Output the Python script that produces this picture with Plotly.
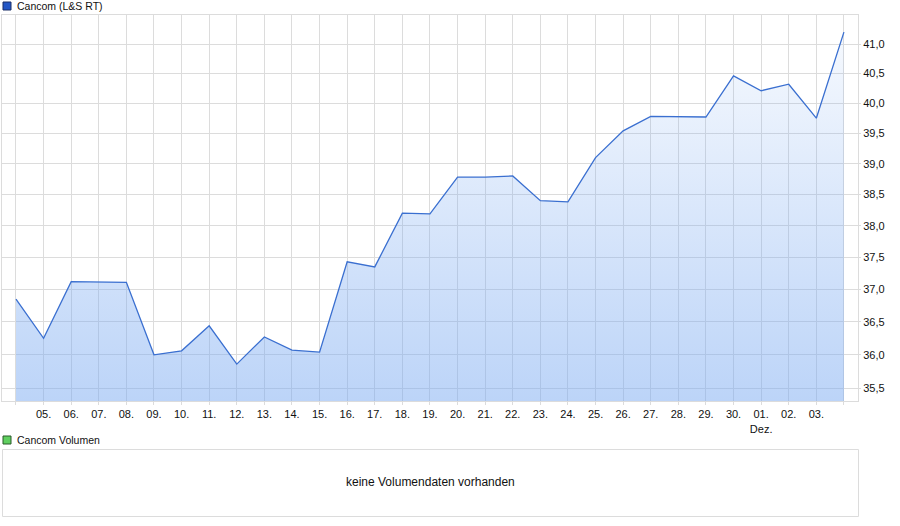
import math
import plotly.graph_objects as go

# ---- data ----
day_labels = ["04.", "05.", "06.", "07.", "08.", "09.", "10.", "11.", "12.", "13.",
              "14.", "15.", "16.", "17.", "18.", "19.", "20.", "21.", "22.", "23.",
              "24.", "25.", "26.", "27.", "28.", "29.", "30.", "01.", "02.", "03.", "04."]
month_marks = {"01.": "Dez."}
prices = [36.85, 36.25, 37.12, 37.12, 37.11, 36.00, 36.06, 36.44, 35.86, 36.27,
          36.07, 36.04, 37.43, 37.35, 38.20, 38.19, 38.78, 38.78, 38.80, 38.40,
          38.38, 39.10, 39.54, 39.78, 39.78, 39.77, 40.46, 40.21, 40.32, 39.75, 41.21]
y_ticks = [35.5, 36.0, 36.5, 37.0, 37.5, 38.0, 38.5, 39.0, 39.5, 40.0, 40.5, 41.0]
y_min, y_max = 35.31, 41.506

x = list(range(len(prices)))
tick_text = []
for i, lab in enumerate(day_labels):
    if i == 0 or i == len(day_labels) - 1:
        tick_text.append("")
    elif lab in month_marks and i > 20:
        tick_text.append(lab + "<br>" + month_marks[lab])
    else:
        tick_text.append(lab)

grid = "#dcdcdc"
fig = go.Figure()
fig.add_trace(go.Scatter(x=x, y=[y_min] * len(x), mode="lines",
                         line=dict(width=0, color="rgba(0,0,0,0)"),
                         hoverinfo="skip", showlegend=False))
fig.add_trace(go.Scatter(
    x=x, y=prices, mode="lines", fill="tonexty",
    line=dict(color="#3a6fd0", width=1.3),
    fillgradient=dict(type="vertical",
                      colorscale=[[0, "rgba(121,169,241,0.5)"], [1, "rgba(121,169,241,0.05)"]],
                      start=y_min, stop=y_max),
    showlegend=False, name="Cancom (L&S RT)"))

W, H = 900, 526
L, R, T, B = 2, 42, 15, 125
pw, ph = W - L - R, H - T - B


def px2x(px):
    return (px - L) / pw


def px2y(py):
    return (H - B - py) / ph


shapes = [
    dict(type="rect", xref="paper", yref="paper", x0=px2x(3), x1=px2x(11), y0=px2y(10), y1=px2y(2),
         fillcolor="#2457c5", line=dict(color="#1a2e66", width=1)),
    dict(type="rect", xref="paper", yref="paper", x0=px2x(3), x1=px2x(11), y0=px2y(444), y1=px2y(436),
         fillcolor="#5fcf5f", line=dict(color="#2a5a2a", width=1)),
    dict(type="rect", xref="paper", yref="paper", x0=px2x(2.5), x1=px2x(858.5), y0=px2y(516.5), y1=px2y(449.5),
         fillcolor="rgba(0,0,0,0)", line=dict(color=grid, width=1)),
]
font = "Liberation Sans, Arial, sans-serif"
annotations = [
    dict(xref="paper", yref="paper", x=px2x(15), y=px2y(6), text="Cancom (L&S RT)",
         showarrow=False, xanchor="left", yanchor="middle", font=dict(size=10.5, color="#111", family=font)),
    dict(xref="paper", yref="paper", x=px2x(15), y=px2y(440), text="Cancom Volumen",
         showarrow=False, xanchor="left", yanchor="middle", font=dict(size=10.5, color="#111", family=font)),
    dict(xref="paper", yref="paper", x=px2x(430.5), y=px2y(482), text="keine Volumendaten vorhanden",
         showarrow=False, xanchor="center", yanchor="middle", font=dict(size=12, color="#111", family=font)),
]

fig.update_layout(
    width=W, height=H, margin=dict(l=L, r=R, t=T, b=B),
    paper_bgcolor="white", plot_bgcolor="white",
    separators=",.", font=dict(family=font, size=11, color="#111"),
    shapes=shapes, annotations=annotations, showlegend=False,
    xaxis=dict(range=[-0.507, 30.51], tickvals=x, ticktext=tick_text, showgrid=True,
               gridcolor=grid, gridwidth=1, zeroline=False, showline=True, linecolor=grid,
               mirror=True, ticks="outside", ticklen=3, tickcolor=grid, tickangle=0,
               tickfont=dict(size=11, color="#111")),
    yaxis=dict(type="log", range=[math.log10(y_min), math.log10(y_max)],
               side="right", tickvals=y_ticks, ticktext=[f"{v:.1f}".replace(".", ",") for v in y_ticks],
               showgrid=True, gridcolor=grid, gridwidth=1, zeroline=False, showline=True,
               linecolor=grid, mirror=True, ticks="outside", ticklen=2, tickcolor=grid,
               tickfont=dict(size=11, color="#111")),
)

fig.write_html("out.html", config={"displayModeBar": False},
               post_script="document.body.style.margin='0';document.body.style.overflow='hidden';")
